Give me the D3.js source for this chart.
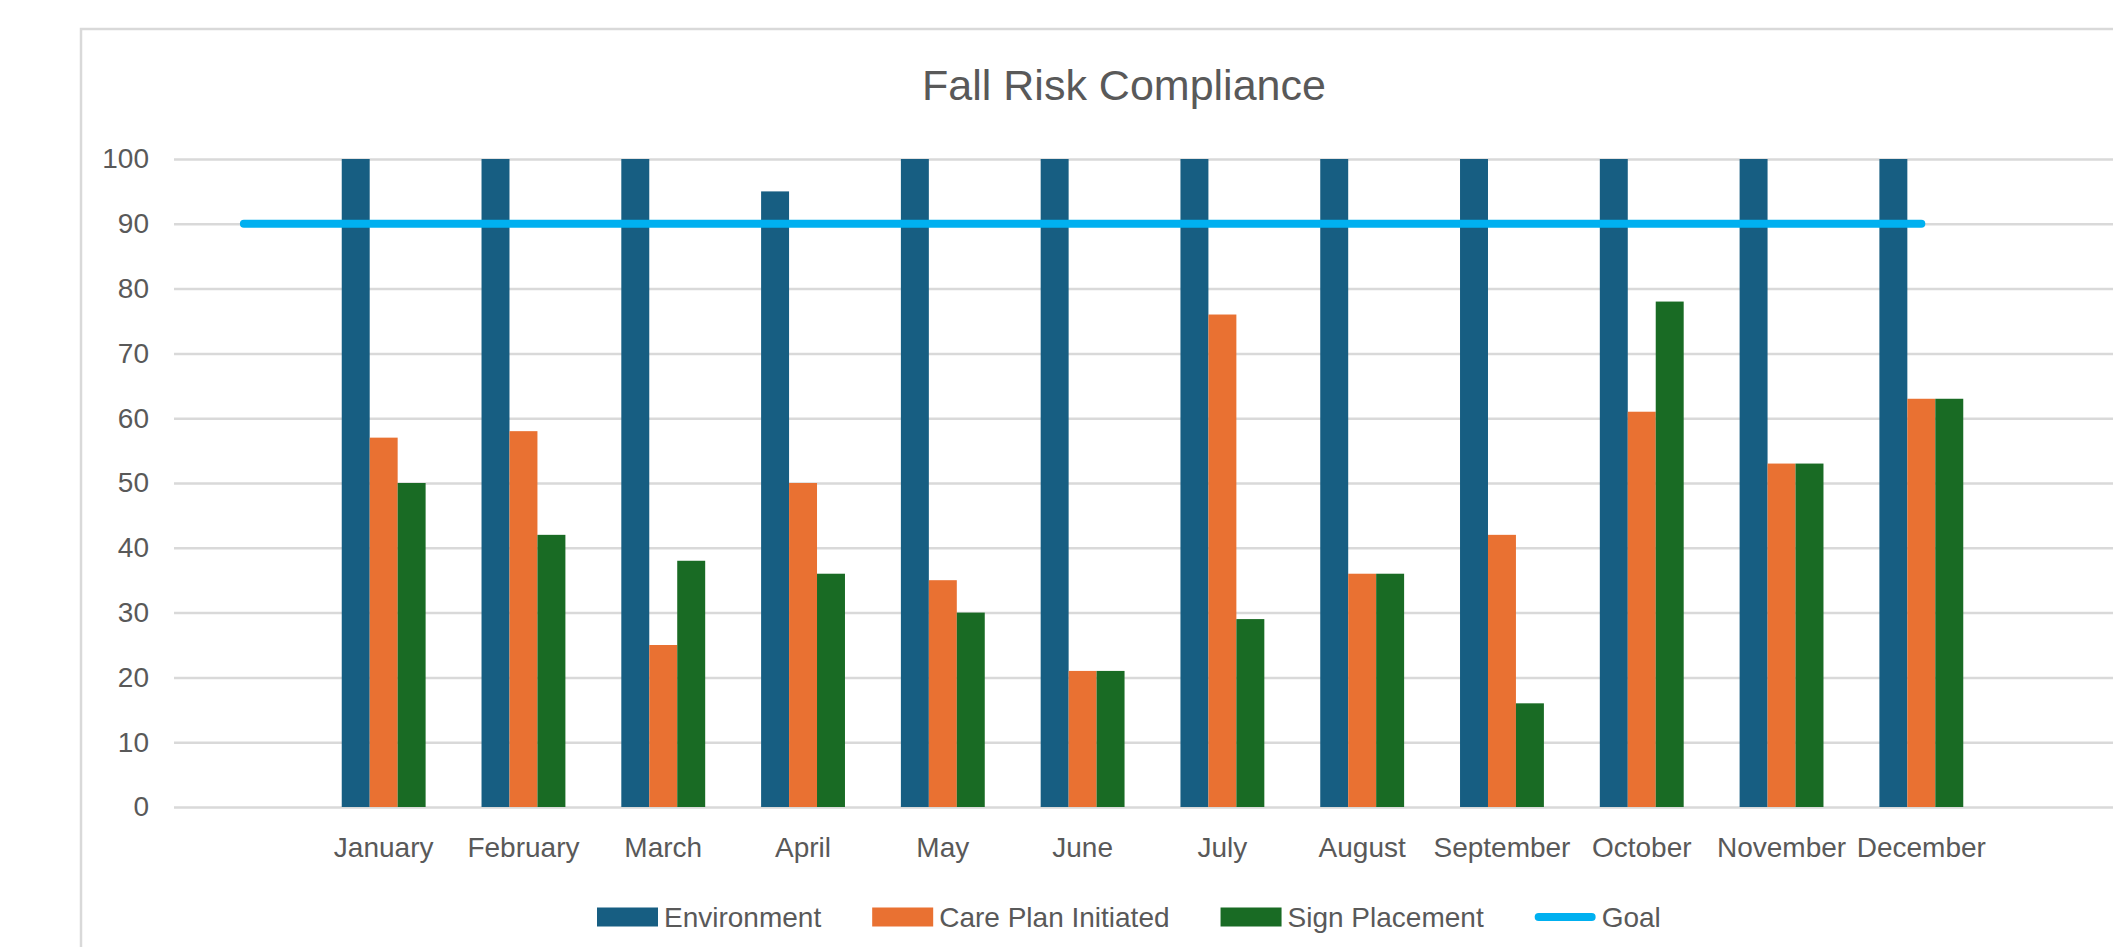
<!DOCTYPE html>
<html>
<head>
<meta charset="utf-8">
<script src="https://cdn.jsdelivr.net/npm/d3@7"></script>
<style>
  body { margin: 0; background: #fff; }
  text { font-family: "Liberation Sans", Arial, sans-serif; fill: #595959; }
</style>
</head>
<body>
<div id="chart"></div>
<script>
// data
var months = ["January", "February", "March", "April", "May", "June",
              "July", "August", "September", "October", "November", "December"];
var environment = [100, 100, 100, 95, 100, 100, 100, 100, 100, 100, 100, 100];
var carePlan    = [57, 58, 25, 50, 35, 21, 76, 36, 42, 61, 53, 63];
var signPlace   = [50, 42, 38, 36, 30, 21, 29, 36, 16, 78, 53, 63];
// goal starts one (empty) category before January
var goal        = [90, 90, 90, 90, 90, 90, 90, 90, 90, 90, 90, 90, 90];
var yTicks      = [0, 10, 20, 30, 40, 50, 60, 70, 80, 90, 100];

var seriesNames = ["Environment", "Care Plan Initiated", "Sign Placement"];
var seriesColors = ["#175E82", "#E97132", "#196B24"];
var goalColor = "#00B0F0";

// empty slots on both sides, as in the original sheet
var categories = ["_pre"].concat(months).concat(["_post"]);

var W = 2113, H = 947;
var plotLeft = 174, plotRight = 2131, plotTop = 159, plotBottom = 807;

var svg = d3.select("#chart")
  .append("svg")
    .attr("width", W)
    .attr("height", H);

// chart frame
svg.append("rect")
  .attr("x", 81)
  .attr("y", 29)
  .attr("width", 2200)
  .attr("height", 1000)
  .attr("fill", "none")
  .attr("stroke", "#D9D9D9")
  .attr("stroke-width", 2.5);

// title
svg.append("text")
  .attr("x", 1124)
  .attr("y", 100)
  .attr("text-anchor", "middle")
  .style("font-size", "43px")
  .text("Fall Risk Compliance");

const x = d3.scaleBand()
  .domain(categories)
  .range([plotLeft, plotRight])
  .padding(0);

const y = d3.scaleLinear()
  .domain([0, 100])
  .range([plotBottom, plotTop]);

const groupW = x.bandwidth() * 0.6;
const xSub = d3.scaleBand()
  .domain(seriesNames)
  .range([0, groupW]);

// y axis + gridlines
const yAxis = svg.append("g")
  .attr("transform", `translate(${plotLeft},0)`)
  .call(d3.axisLeft(y)
    .tickValues(yTicks)
    .tickSize(-(plotRight - plotLeft))
    .tickPadding(25));
yAxis.select(".domain").remove();
yAxis.selectAll(".tick line")
  .attr("stroke", "#D9D9D9")
  .attr("stroke-width", 2.5);
yAxis.selectAll(".tick text")
  .style("font-size", "28px")
  .attr("fill", "#595959");

// x axis labels
const xAxis = svg.append("g")
  .attr("transform", `translate(0,${plotBottom})`)
  .call(d3.axisBottom(x)
    .tickSize(0)
    .tickPadding(30)
    .tickFormat(d => months.includes(d) ? d : ""));
xAxis.select(".domain").remove();
xAxis.selectAll(".tick text")
  .style("font-size", "28px")
  .attr("fill", "#595959");

// bars
var rows = months.map((m, i) => ({
  month: m,
  values: [environment[i], carePlan[i], signPlace[i]]
}));

const groups = svg.selectAll(".month")
  .data(rows)
  .enter().append("g")
    .attr("class", "month")
    .attr("transform", d => `translate(${x(d.month) + (x.bandwidth() - groupW) / 2},0)`);

groups.selectAll("rect")
  .data(d => d.values.map((v, k) => ({key: seriesNames[k], value: v, color: seriesColors[k]})))
  .enter().append("rect")
    .attr("x", d => xSub(d.key))
    .attr("y", d => y(d.value))
    .attr("width", xSub.bandwidth())
    .attr("height", d => plotBottom - y(d.value))
    .attr("fill", d => d.color);

// goal line
var goalCats = categories.slice(0, goal.length);
const line = d3.line()
  .x((d, i) => x(goalCats[i]) + x.bandwidth() / 2)
  .y(d => y(d));

svg.append("path")
  .datum(goal)
  .attr("d", line)
  .attr("fill", "none")
  .attr("stroke", goalColor)
  .attr("stroke-width", 8)
  .attr("stroke-linecap", "round");

// legend
var legendY = 917;
var lx = 597;
var legendItems = seriesNames.map((n, i) => ({name: n, color: seriesColors[i], type: "bar"}))
  .concat([{name: "Goal", color: goalColor, type: "line"}]);

legendItems.forEach(function (d) {
  var g = svg.append("g").attr("class", "legend");
  if (d.type === "bar") {
    g.append("rect")
      .attr("x", lx)
      .attr("y", legendY - 9.5)
      .attr("width", 61)
      .attr("height", 19)
      .attr("fill", d.color);
  } else {
    g.append("line")
      .attr("x1", lx + 4)
      .attr("x2", lx + 57)
      .attr("y1", legendY)
      .attr("y2", legendY)
      .attr("stroke", d.color)
      .attr("stroke-width", 8)
      .attr("stroke-linecap", "round");
  }
  var t = g.append("text")
    .attr("x", lx + 67)
    .attr("y", legendY)
    .attr("dy", "0.35em")
    .style("font-size", "28px")
    .text(d.name);
  lx += 67 + t.node().getComputedTextLength() + 51;
});
</script>
</body>
</html>
